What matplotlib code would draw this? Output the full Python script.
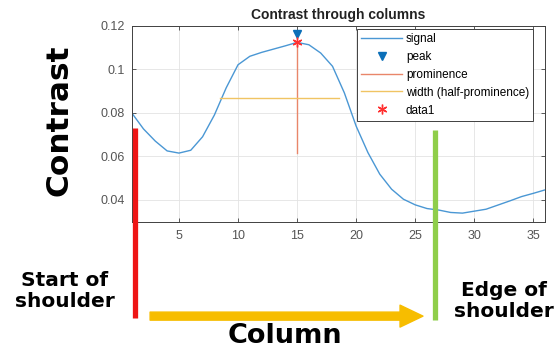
import numpy as np
import matplotlib
matplotlib.use("Agg")
import matplotlib.pyplot as plt
from matplotlib.lines import Line2D
from matplotlib.patches import FancyArrowPatch

# contrast profile across columns 1..36
columns = np.arange(1, 37)
contrast = [0.0800, 0.0726, 0.0670, 0.0625, 0.0615, 0.0628, 0.0690, 0.0790,
            0.0915, 0.1021, 0.1060, 0.1078, 0.1093, 0.1108, 0.1124, 0.1113,
            0.1075, 0.1014, 0.0892, 0.0739, 0.0617, 0.0518, 0.0449, 0.0403,
            0.0377, 0.0360, 0.0353, 0.0342, 0.0339, 0.0348, 0.0357, 0.0376,
            0.0395, 0.0415, 0.0430, 0.0446]

peak_col = 15
peak_val = 0.1124
peak_marker_offset = 0.0038
prominence_base = 0.0614
half_prom_level = 0.0869
width_left, width_right = 8.45, 18.56

x_ticks = [5, 10, 15, 20, 25, 30, 35]
y_ticks = [0.04, 0.06, 0.08, 0.1, 0.12]
y_ticklabels = ["0.04", "0.06", "0.08", "0.1", "0.12"]

plt.rcParams['font.family'] = ['Liberation Sans', 'DejaVu Sans']

fig = plt.figure(figsize=(5.58, 3.54), dpi=100)
ax = fig.add_axes([0.236, 0.374, 0.741, 0.553])

ax.plot(columns, contrast, color='#4a97d4', lw=1.0, label='signal')
ax.plot([peak_col], [peak_val + peak_marker_offset], 'v', color='#0b6fb8',
        ms=6, label='peak')
ax.plot([peak_col, peak_col], [prominence_base, peak_val], color='#e9866a',
        lw=1.0, label='prominence')
ax.plot([width_left, width_right], [half_prom_level, half_prom_level],
        color='#f0c463', lw=1.0, label='width (half-prominence)')
ax.plot([peak_col], [peak_val], marker=(6, 2, 0), ls='none', color='#ff3030',
        ms=7, mew=1.0, label='data1')

ax.set_xlim(1, 36)
ax.set_ylim(0.03, 0.12)
ax.set_xticks(x_ticks)
ax.set_yticks(y_ticks)
ax.set_yticklabels(y_ticklabels)
ax.grid(True, color='#e3e3e3', lw=0.6)
ax.tick_params(direction='in', length=3, width=0.6, colors='#404040',
               labelcolor='#555555', labelsize=9, top=True, right=True)
ax.tick_params(axis='x', pad=6)
ax.tick_params(axis='y', pad=5)
for sp in ax.spines.values():
    sp.set_color('#404040')
    sp.set_linewidth(0.7)
ax.set_title('Contrast through columns', fontsize=10, fontweight='bold',
             color='#222222', pad=5)

leg = ax.legend(loc='upper right', bbox_to_anchor=(0.971, 0.985),
                fontsize=8.5, handlelength=3.5,
                borderaxespad=0, fancybox=False, framealpha=1,
                edgecolor='#404040', labelspacing=0.5, borderpad=0.35,
                handletextpad=0.3)
leg.get_frame().set_linewidth(0.7)

# annotation overlay in figure coordinates
fig.add_artist(Line2D([0.242, 0.242], [0.638, 0.102], color='#ee1515',
                      lw=3.8, solid_capstyle='butt'))
fig.add_artist(Line2D([0.779, 0.779], [0.633, 0.096], color='#8fce4a',
                      lw=3.8, solid_capstyle='butt'))
arrow = FancyArrowPatch((0.269, 0.107), (0.758, 0.107),
                        transform=fig.transFigure,
                        arrowstyle='simple,head_length=1.65,head_width=1.58,tail_width=0.58',
                        mutation_scale=10, color='#f7bd00', shrinkA=0, shrinkB=0)
fig.patches.append(arrow)

big = ['DejaVu Sans']
fig.text(0.105, 0.661, 'Contrast', rotation=90, fontsize=22.5, family=big,
         fontweight='bold', ha='center', va='center')
fig.text(0.511, 0.051, 'Column', fontsize=19.5, family=big, fontweight='bold',
         ha='center', va='center')
fig.text(0.1165, 0.178, 'Start of\nshoulder', fontsize=14.5, family=big,
         fontweight='bold', ha='center', va='center', linespacing=1.1)
fig.text(0.903, 0.150, 'Edge of\nshoulder', fontsize=14.5, family=big,
         fontweight='bold', ha='center', va='center', linespacing=1.1)

fig.savefig('out.png', dpi=100)
